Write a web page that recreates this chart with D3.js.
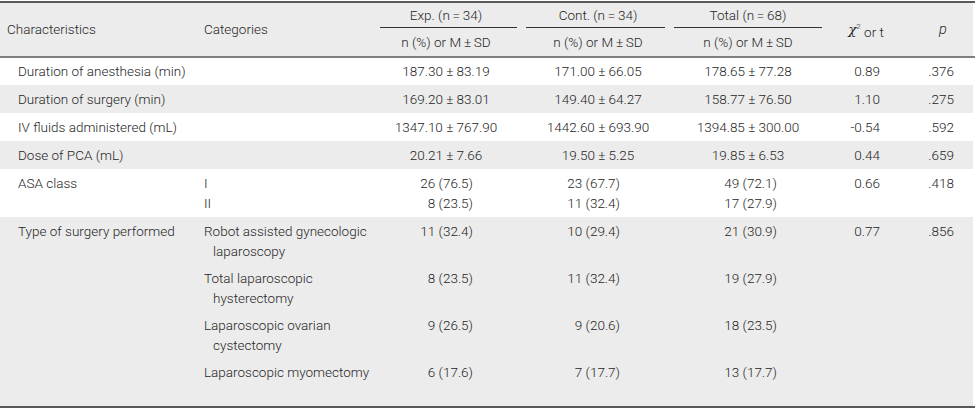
<!DOCTYPE html>
<html>
<head>
<meta charset="utf-8">
<script src="https://cdn.jsdelivr.net/npm/d3@7"></script>
<style>
  html, body { margin: 0; padding: 0; background: #fff; }
  svg { display: block; }
  text { font-family: Roboto, "Liberation Sans", Arial, sans-serif; font-weight: 300; fill: #262626; }
</style>
</head>
<body>
<svg id="chart" width="975" height="411"></svg>
<script>
// ---------- DATA ----------
const groupHeaders = ["Exp. (n\u2009=\u200934)", "Cont. (n\u2009=\u200934)", "Total (n\u2009=\u200968)"];
const subHeader = "n (%) or M\u2009\u00b1\u2009SD";
const characteristics = [
  "Duration of anesthesia (min)",
  "Duration of surgery (min)",
  "IV fluids administered (mL)",
  "Dose of PCA (mL)",
  "ASA class",
  "Type of surgery performed"
];
const categories = [
  [], [], [], [],
  [["I"], ["II"]],
  [["Robot assisted gynecologic", "laparoscopy"],
   ["Total laparoscopic", "hysterectomy"],
   ["Laparoscopic ovarian", "cystectomy"],
   ["Laparoscopic myomectomy"]]
];
const expValues = [
  ["187.30 \u00b1 83.19"], ["169.20 \u00b1 83.01"], ["1347.10 \u00b1 767.90"], ["20.21 \u00b1 7.66"],
  ["26 (76.5)", "8 (23.5)"],
  ["11 (32.4)", "8 (23.5)", "9 (26.5)", "6 (17.6)"]
];
const contValues = [
  ["171.00 \u00b1 66.05"], ["149.40 \u00b1 64.27"], ["1442.60 \u00b1 693.90"], ["19.50 \u00b1 5.25"],
  ["23 (67.7)", "11 (32.4)"],
  ["10 (29.4)", "11 (32.4)", "9 (20.6)", "7 (17.7)"]
];
const totalValues = [
  ["178.65 \u00b1 77.28"], ["158.77 \u00b1 76.50"], ["1394.85 \u00b1 300.00"], ["19.85 \u00b1 6.53"],
  ["49 (72.1)", "17 (27.9)"],
  ["21 (30.9)", "19 (27.9)", "18 (23.5)", "13 (17.7)"]
];
const statValues = ["0.89", "1.10", "-0.54", "0.44", "0.66", "0.77"];
const pValues = [".376", ".275", ".592", ".659", ".418", ".856"];

// ---------- LAYOUT ----------
const svg = d3.select("#chart");
const fs = 13.5;
const lineH = 20;
const rowPad = 28;
const itemGap = 27;
const headTop = 2, headBottom = 57, tableBottom = 406;
const grey = "#ececec", rule = "#595959";

const rows = characteristics.map((c, i) => {
  const cats = categories[i].length ? categories[i] : [[""]];
  return { c, cats, exp: expValues[i], cont: contValues[i], tot: totalValues[i], stat: statValues[i], p: pValues[i], isCount: categories[i].length > 0 };
});

let y = headBottom;
rows.forEach((r, i) => {
  r.top = y;
  r.itemY = [];
  let cy = y + 14;
  const isGrouped = r.cats.length > 2;
  r.cats.forEach((lines) => {
    r.itemY.push(cy);
    if (isGrouped) cy += (lines.length - 1) * lineH + itemGap;
    else cy += lineH;
  });
  r.bottom = (i === rows.length - 1) ? tableBottom : y + rowPad + (r.cats.length - 1) * lineH;
  y = r.bottom;
});

const keys = ["exp", "cont", "tot"];
const colCenter = d3.scaleOrdinal().domain(keys).range([446, 598, 748]);
const countRight = d3.scaleOrdinal().domain(keys).range([473, 620, 777]);
const underline = d3.scaleOrdinal().domain(keys).range([[380, 517], [526, 665], [674, 822]]);
const xChar = 18, xCharHead = 7, xCat = 204, xCatIndent = 213, xStat = 880, xP = 954;

// ---------- BACKGROUNDS ----------
svg.append("rect").attr("x", 0).attr("y", headTop).attr("width", 973).attr("height", headBottom - headTop).attr("fill", grey);
svg.append("g").selectAll("rect").data(rows.filter((r, i) => i % 2 === 1)).join("rect")
  .attr("x", 0).attr("y", d => d.top).attr("width", 973).attr("height", d => d.bottom - d.top).attr("fill", grey);

// ---------- HEADER ----------
const head = svg.append("g").attr("font-size", fs);
head.append("text").attr("x", xCharHead).attr("y", 29).attr("dy", "0.35em").text("Characteristics");
head.append("text").attr("x", xCat).attr("y", 29).attr("dy", "0.35em").text("Categories");

keys.forEach((k, i) => {
  head.append("text").attr("x", colCenter(k)).attr("y", 15).attr("dy", "0.35em").attr("text-anchor", "middle").text(groupHeaders[i]);
  const u = underline(k);
  head.append("line").attr("x1", u[0]).attr("x2", u[1]).attr("y1", 27.5).attr("y2", 27.5).attr("stroke", "#333").attr("stroke-width", 1);
  head.append("text").attr("x", colCenter(k)).attr("y", 42).attr("dy", "0.35em").attr("text-anchor", "middle").text(subHeader);
});

const chi = head.append("text").attr("x", 866).attr("y", 29).attr("dy", "0.35em").attr("text-anchor", "middle");
chi.append("tspan").attr("font-style", "italic").attr("font-family", "'DejaVu Serif', serif").text("\u03c7");
chi.append("tspan").attr("font-size", 8).attr("dy", "-0.6em").text("2");
chi.append("tspan").attr("dy", "0.6em").text(" or t");
head.append("text").attr("x", 943).attr("y", 29).attr("dy", "0.35em").attr("text-anchor", "middle").attr("font-size", fs + 1).attr("font-style", "italic").attr("font-family", "'DejaVu Serif', serif").text("p");

// ---------- BODY ----------
const body = svg.append("g").attr("font-size", fs);
rows.forEach(r => {
  body.append("text").attr("x", xChar).attr("y", r.itemY[0]).attr("dy", "0.35em").text(r.c);
  r.cats.forEach((lines, k) => {
    const yy = r.itemY[k];
    lines.forEach((ln, j) => {
      if (!ln) return;
      body.append("text").attr("x", j === 0 ? xCat : xCatIndent).attr("y", yy + j * lineH).attr("dy", "0.35em").text(ln);
    });
    [["exp", r.exp], ["cont", r.cont], ["tot", r.tot]].forEach(([key, vals]) => {
      const v = vals[k];
      if (v === undefined) return;
      const t = body.append("text").attr("y", yy).attr("dy", "0.35em").text(v);
      if (r.isCount) t.attr("x", countRight(key)).attr("text-anchor", "end");
      else t.attr("x", colCenter(key)).attr("text-anchor", "middle");
    });
  });
  body.append("text").attr("x", xStat).attr("y", r.itemY[0]).attr("dy", "0.35em").attr("text-anchor", "end").text(r.stat);
  body.append("text").attr("x", xP).attr("y", r.itemY[0]).attr("dy", "0.35em").attr("text-anchor", "end").text(r.p);
});

// ---------- RULES ----------
svg.append("line").attr("x1", 0).attr("x2", 975).attr("y1", headTop).attr("y2", headTop).attr("stroke", rule).attr("stroke-width", 2);
svg.append("line").attr("x1", 0).attr("x2", 975).attr("y1", headBottom).attr("y2", headBottom).attr("stroke", rule).attr("stroke-width", 1.5);
svg.append("line").attr("x1", 0).attr("x2", 975).attr("y1", tableBottom + 1).attr("y2", tableBottom + 1).attr("stroke", rule).attr("stroke-width", 2);
</script>
</body>
</html>
